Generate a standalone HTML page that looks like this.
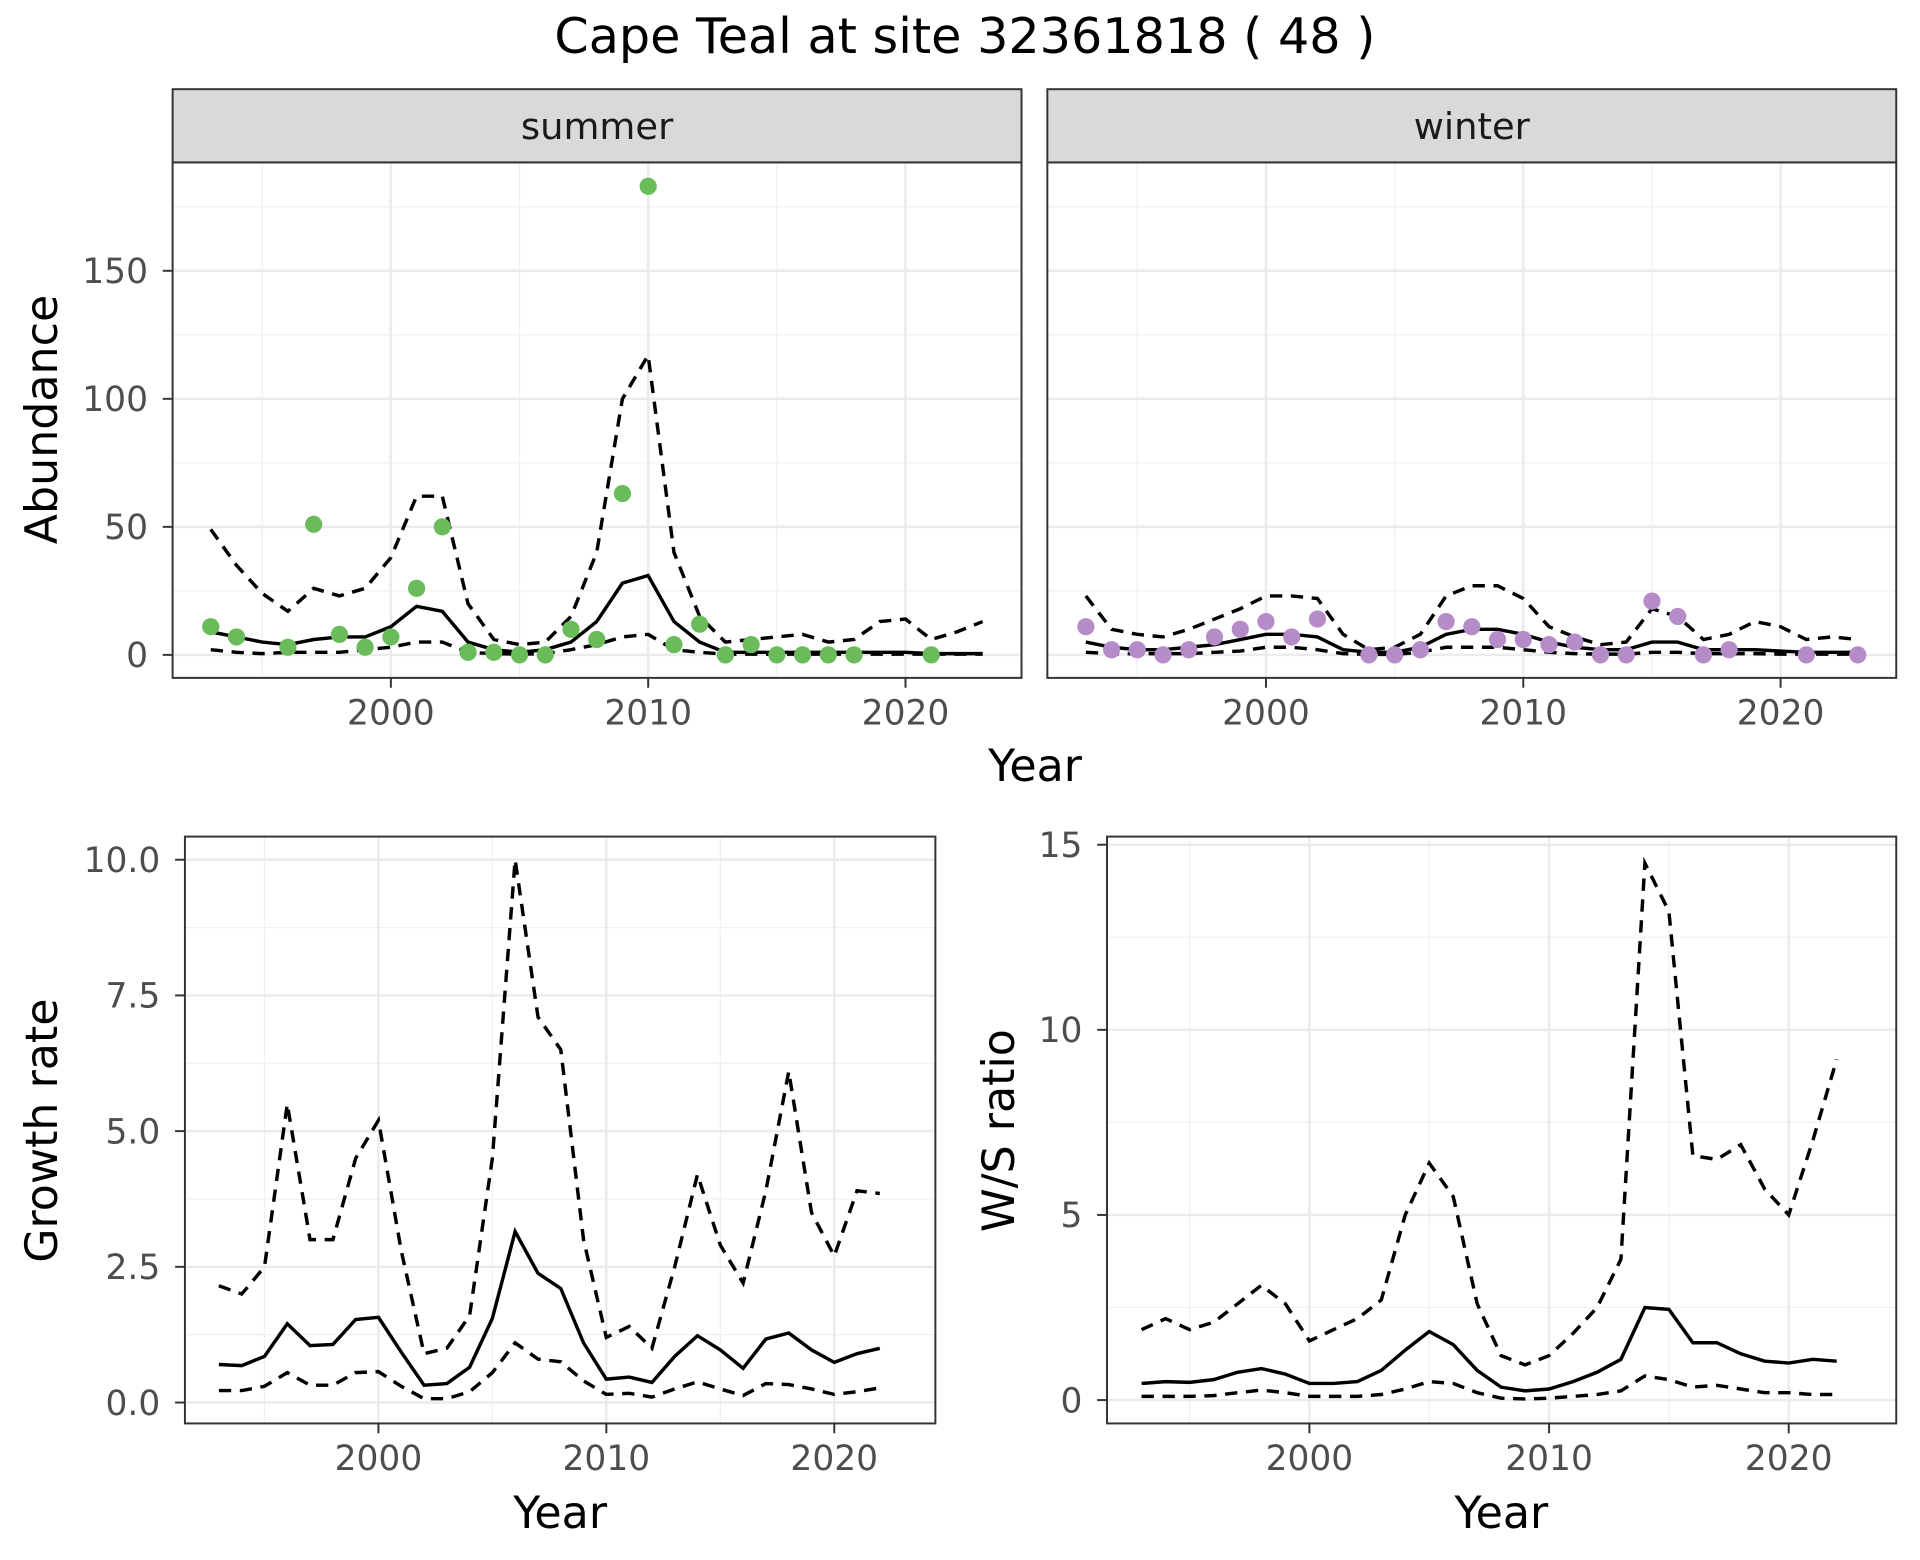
<!DOCTYPE html>
<html><head><meta charset="utf-8"><style>
html,body{margin:0;padding:0;background:#fff;}
svg{display:block;font-family:"DejaVu Sans","Liberation Sans",sans-serif;}
</style></head><body>
<svg id="c" width="1920" height="1560" viewBox="0 0 1560 1268" xmlns="http://www.w3.org/2000/svg">
<rect width="1560" height="1268" fill="#fff"/>
<text x="784" y="43" font-size="40" text-anchor="middle">Cape Teal at site 32361818 ( 48 )</text>
</svg>
<script>
const yearsA = [1993,1994,1995,1996,1997,1998,1999,2000,2001,2002,2003,2004,2005,2006,2007,2008,2009,2010,2011,2012,2013,2014,2015,2016,2017,2018,2019,2020,2021,2022,2023];
const sumPtYears = [1993,1994,1996,1997,1998,1999,2000,2001,2002,2003,2004,2005,2006,2007,2008,2009,2010,2011,2012,2013,2014,2015,2016,2017,2018,2021];
const sumPts = [11,7,3,51,8,3,7,26,50,1,1,0,0,10,6,63,183,4,12,0,4,0,0,0,0,0];
const sumMean = [9,7,5,4,6,7,7,11,19,17,5,2,1,2,5,13,28,31,13,5,1,1,1,1,1,1,1,1,0.5,0.5,0.5];
const sumUpper = [49,35,24,17,26,23,26,38,62,62,20,6,4,5,15,40,100,117,40,15,5,6,7,8,5,6,13,14,6,9,13];
const sumLower = [2,1,0.5,1,1,1,2,3,5,5,1,0.5,0.3,0.5,2,4,7,8,2,1,0.3,0.3,0.3,0.3,0.3,0.3,0.3,0.3,0.3,0.3,0.3];
const winPtYears = [1993,1994,1995,1996,1997,1998,1999,2000,2001,2002,2004,2005,2006,2007,2008,2009,2010,2011,2012,2013,2014,2015,2016,2017,2018,2021,2023];
const winPts = [11,2,2,0,2,7,10,13,7,14,0,0,2,13,11,6,6,4,5,0,0,21,15,0,2,0,0];
const winMean = [5,3,2,2,3,4,6,8,8,7,2,1,1,3,8,10,10,8,5,3,2,2,5,5,2,2,2,1.5,1,1,1];
const winUpper = [23,10,8,7,10,14,18,23,23,22,8,2,3,8,23,27,27,22,11,7,4,5,18,15,6,8,13,11,6,7,6];
const winLower = [1,0.5,0.5,0.5,0.5,1,1.5,3,3,2,0.5,0.2,0.2,1,3,3,3,2,1,0.5,0.3,0.3,1,1,0.5,0.5,0.5,0.3,0.3,0.3,0.3];
const yearsB = [1993,1994,1995,1996,1997,1998,1999,2000,2001,2002,2003,2004,2005,2006,2007,2008,2009,2010,2011,2012,2013,2014,2015,2016,2017,2018,2019,2020,2021,2022];
const grMean = [0.7,0.68,0.85,1.45,1.05,1.07,1.53,1.57,0.93,0.32,0.35,0.65,1.55,3.15,2.38,2.1,1.1,0.43,0.47,0.37,0.85,1.23,0.97,0.63,1.17,1.28,0.97,0.74,0.9,1.0];
const grUpper = [2.15,2.0,2.5,5.5,3.0,3.0,4.5,5.2,2.8,0.9,1.0,1.6,4.5,10,7.1,6.5,3.0,1.2,1.4,1.0,2.5,4.2,2.9,2.2,3.9,6.1,3.5,2.7,3.9,3.85];
const grLower = [0.22,0.22,0.3,0.55,0.32,0.32,0.55,0.57,0.3,0.07,0.07,0.2,0.55,1.1,0.8,0.75,0.4,0.15,0.17,0.1,0.25,0.38,0.25,0.13,0.35,0.33,0.25,0.15,0.2,0.27];
const wsMean = [0.45,0.5,0.48,0.55,0.75,0.85,0.7,0.45,0.45,0.5,0.8,1.35,1.85,1.5,0.8,0.35,0.25,0.3,0.5,0.75,1.1,2.5,2.45,1.55,1.55,1.25,1.05,1.0,1.1,1.05];
const wsUpper = [1.9,2.2,1.9,2.1,2.6,3.1,2.6,1.6,1.9,2.2,2.7,5.0,6.4,5.5,2.6,1.2,0.95,1.2,1.8,2.5,3.8,14.5,13.2,6.6,6.5,6.9,5.7,5.0,7.0,9.2];
const wsLower = [0.1,0.1,0.1,0.12,0.2,0.27,0.2,0.1,0.1,0.1,0.15,0.3,0.5,0.45,0.2,0.05,0.03,0.05,0.1,0.15,0.25,0.65,0.55,0.35,0.4,0.3,0.2,0.2,0.15,0.15];
const xTicks = [2000,2010,2020];
const xMinor = [1995,2005,2015];
const abTicks = [0,50,100,150];
const abMinor = [25,75,125,175];
const grTicks = [0,2.5,5,7.5,10];
const grMinor = [1.25,3.75,6.25,8.75];
const wsTicks = [0,5,10,15];
const wsMinor = [2.5,7.5,12.5];
const grTickLabels = ["0.0","2.5","5.0","7.5","10.0"];

const svg = document.getElementById('c');
const NS = 'http://www.w3.org/2000/svg';
function mk(tag, attrs, parent){const e=document.createElementNS(NS,tag);for(const k in attrs)e.setAttribute(k,attrs[k]);(parent||svg).appendChild(e);return e;}
function lin(d0,d1,r0,r1){return v=>r0+(v-d0)*(r1-r0)/(d1-d0);}

function panel(p){
  const g=mk('g',{});
  
  
  const X=p.x, Y=p.y;
  xMinor.forEach(v=>mk('line',{x1:X(v),x2:X(v),y1:p.t,y2:p.b,stroke:'#f0f0f0','stroke-width':1},g));
  p.yMinor.forEach(v=>{if(Y(v)>p.t)mk('line',{x1:p.l,x2:p.r,y1:Y(v),y2:Y(v),stroke:'#f0f0f0','stroke-width':1},g);});
  xTicks.forEach(v=>mk('line',{x1:X(v),x2:X(v),y1:p.t,y2:p.b,stroke:'#ebebeb','stroke-width':2},g));
  p.yTicks.forEach(v=>mk('line',{x1:p.l,x2:p.r,y1:Y(v),y2:Y(v),stroke:'#ebebeb','stroke-width':2},g));
  const drawLine=(ys,vals,dash,nm)=>{
    const pl=mk('polyline',{points:ys.map((yr,i)=>X(yr).toFixed(1)+','+Y(vals[i]).toFixed(1)).join(' '),fill:'none',stroke:'#000','stroke-width':2.8,'stroke-dasharray':dash?'10,7':'none'},g);
    
    
  };
  drawLine(p.years,p.upper,true,'upper-bound-line');
  drawLine(p.years,p.lower,true,'lower-bound-line');
  drawLine(p.years,p.mean,false,'mean-line');
  if(p.pts){p.ptYears.forEach((yr,i)=>{
    const c=mk('circle',{cx:X(yr),cy:Y(p.pts[i]),r:7,fill:p.col},g);
    
    
  });}
  mk('rect',{x:p.l,y:p.t,width:p.r-p.l,height:p.b-p.t,fill:'none',stroke:'#333','stroke-width':1.6},g);
  xTicks.forEach(v=>{mk('line',{x1:X(v),x2:X(v),y1:p.b,y2:p.b+8,stroke:'#333','stroke-width':1.6},g);
    const t=mk('text',{x:X(v),y:p.b+38,'font-size':28,fill:'#4d4d4d','text-anchor':'middle'},g);t.textContent=v;});
  if(p.yLabels){p.yTicks.forEach((v,i)=>{mk('line',{x1:p.l-8,x2:p.l,y1:Y(v),y2:Y(v),stroke:'#333','stroke-width':1.6},g);
    const t=mk('text',{x:p.l-20,y:Y(v)+10,'font-size':28,fill:'#4d4d4d','text-anchor':'end'},g);t.textContent=p.yLabels[i];});}
}
const abY=lin(0,150,532.3,220.1);
const sx=lin(2000,2020,317.4,735.7), wx=lin(2000,2020,1028.7,1447);
panel({name:'summer-panel',l:140,r:830,t:132,b:551,x:sx,y:abY,yTicks:abTicks,yMinor:abMinor,yLabels:abTicks.map(String),years:yearsA,mean:sumMean,upper:sumUpper,lower:sumLower,ptYears:sumPtYears,pts:sumPts,col:'#6abc5a'});
panel({name:'winter-panel',l:851,r:1541,t:132,b:551,x:wx,y:abY,yTicks:abTicks,yMinor:abMinor,yLabels:null,years:yearsA,mean:winMean,upper:winUpper,lower:winLower,ptYears:winPtYears,pts:winPts,col:'#b68cc8'});
panel({name:'growth-rate-panel',l:150,r:760,t:680,b:1157,x:lin(2000,2020,307.3,677.8),y:lin(0,10,1140,698.8),yTicks:grTicks,yMinor:grMinor,yLabels:grTickLabels,years:yearsB,mean:grMean,upper:grUpper,lower:grLower});
panel({name:'ws-ratio-panel',l:899.5,r:1541,t:680,b:1157,x:lin(2000,2020,1064,1453.6),y:lin(0,15,1138,686.6),yTicks:wsTicks,yMinor:wsMinor,yLabels:wsTicks.map(String),years:yearsB,mean:wsMean,upper:wsUpper,lower:wsLower});

[['summer',140,830],['winter',851,1541]].forEach(s=>{
  const r=mk('rect',{x:s[1],y:72.5,width:s[2]-s[1],height:59.5,fill:'#d9d9d9',stroke:'#333','stroke-width':1.6});
  
  
  const t=mk('text',{x:(s[1]+s[2])/2,y:113,'font-size':30,fill:'#1a1a1a','text-anchor':'middle'});t.textContent=s[0];
  
  
});
function label(txt,x,y,rot,nm){
  const t=mk('text',{x:x,y:y,'font-size':36,fill:'#000','text-anchor':'middle',transform:rot?`rotate(-90 ${x} ${y})`:''});
  t.textContent=txt;
  
  
}
label('Year',841,635,false,'top-x-axis-title');
label('Abundance',46,341,true,'abundance-y-axis-title');
label('Year',455,1242,false,'growth-x-axis-title');
label('Growth rate',46,919,true,'growth-y-axis-title');
label('Year',1220,1242,false,'ws-x-axis-title');
label('W/S ratio',824,919,true,'ws-y-axis-title');
</script>
</body></html>
